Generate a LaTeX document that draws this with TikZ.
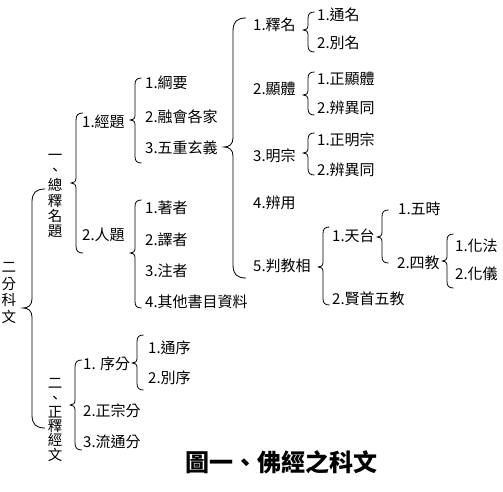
\documentclass[tikz,border=0pt]{standalone}
\usepackage{fontspec}
\setmainfont{Noto Sans CJK TC}
\newcommand\brc[5]{% x, top, tip, bottom, curl size
\draw[brc] ({#1+#5},#2) .. controls ({#1+0.3*#5},#2) and (#1,{#2+0.3*#5}) .. (#1,{#2+#5})
 -- (#1,{#3-0.7*#5}) .. controls (#1,{#3-0.2*#5}) and ({#1-0.3*#5},#3) .. ({#1-0.7*#5},#3)
 .. controls ({#1-0.3*#5},#3) and (#1,{#3+0.2*#5}) .. (#1,{#3+0.7*#5})
 -- (#1,{#4-#5}) .. controls (#1,{#4-0.3*#5}) and ({#1+0.3*#5},#4) .. ({#1+#5},#4);}
\begin{document}
\begin{tikzpicture}[x=1pt,y=-1pt,
  brc/.style={line width=0.8pt,black},
  lbl/.style={anchor=west,inner sep=0pt,font=\fontsize{15}{16}\selectfont},
  vt/.style={align=center,inner sep=0pt}]
\useasboundingbox (0,0) rectangle (503,492);
% vertical labels
\node[vt,font=\fontsize{14.5}{16.6}\selectfont] (root) at (9,293) {二\\分\\科\\文};
\node[vt,font=\fontsize{14.5}{15.3}\selectfont] (a1) at (55,196) {一\\、\\總\\釋\\名\\題};
\node[vt,font=\fontsize{14.5}{14.3}\selectfont] (a2) at (55,420) {二\\、\\正\\釋\\經\\文};
% level 2
\node[lbl] (b1) at (82,122) {1.經題};
\node[lbl] (b2) at (82,235) {2.人題};
\node[lbl] (c1) at (83,364) {1. 序分};
\node[lbl] (c2) at (83,411) {2.正宗分};
\node[lbl] (c3) at (83,442) {3.流通分};
% level 3
\node[lbl] (b11) at (145,83) {1.綱要};
\node[lbl] (b12) at (145,117) {2.融會各家};
\node[lbl] (b13) at (145,148) {3.五重玄義};
\node[lbl] (b21) at (145,208) {1.著者};
\node[lbl] (b22) at (145,240) {2.譯者};
\node[lbl] (b23) at (145,271) {3.注者};
\node[lbl] (b24) at (145,302) {4.其他書目資料};
\node[lbl] (c11) at (148,348) {1.通序};
\node[lbl] (c12) at (148,378) {2.別序};
% level 4
\node[lbl] (d1) at (253,25) {1.釋名};
\node[lbl] (d2) at (253,89) {2.顯體};
\node[lbl] (d3) at (253,156) {3.明宗};
\node[lbl] (d4) at (253,203) {4.辨用};
\node[lbl] (d5) at (253,266) {5.判教相};
\node[lbl] (d11) at (317,15) {1.通名};
\node[lbl] (d12) at (317,43) {2.別名};
\node[lbl] (d21) at (317,79) {1.正顯體};
\node[lbl] (d22) at (317,108) {2.辨異同};
\node[lbl] (d31) at (317,140) {1.正明宗};
\node[lbl] (d32) at (317,170) {2.辨異同};
\node[lbl] (d51) at (332,236) {1.天台};
\node[lbl] (d52) at (332,299) {2.賢首五教};
\node[lbl] (d511) at (398,209) {1.五時};
\node[lbl] (d512) at (397,263) {2.四教};
\node[lbl] (d5121) at (455,246) {1.化法};
\node[lbl] (d5122) at (455,274) {2.化儀};
% title
\node[inner sep=0pt,font=\fontsize{24}{26}\selectfont\bfseries] (title) at (281,462) {圖一、佛經之科文};
% braces
\brc{32}{189}{308}{428}{13}
\brc{76}{113}{183}{253}{7}
\brc{75}{360}{405}{450}{7}
\brc{135}{78}{120}{163}{6.5}
\brc{135}{200}{253}{308}{6.5}
\brc{233}{18}{147}{278}{13}
\brc{308}{12}{30}{52}{6.5}
\brc{308}{72}{95}{115}{6.5}
\brc{308}{133}{153}{175}{6.5}
\brc{323}{227}{267}{305}{6.5}
\brc{382}{210}{237}{263}{6.5}
\brc{447}{234}{261}{288}{6.5}
\brc{137}{335}{363}{390}{6.5}
\end{tikzpicture}
\end{document}
